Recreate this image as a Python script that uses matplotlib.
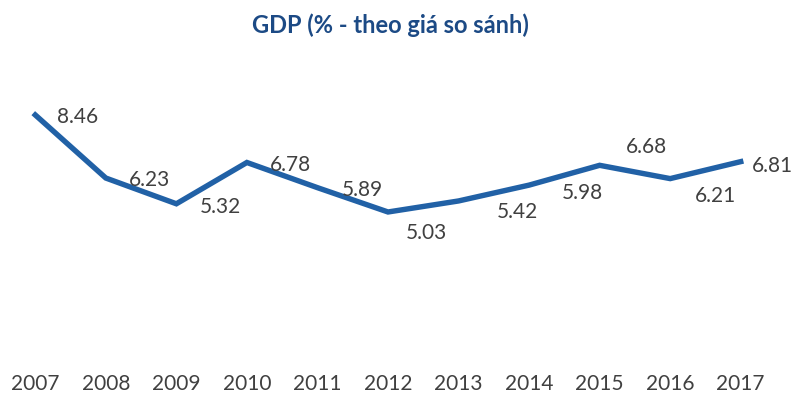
import matplotlib
matplotlib.use('Agg')
import matplotlib.pyplot as plt

years = [2007, 2008, 2009, 2010, 2011, 2012, 2013, 2014, 2015, 2016, 2017]
gdp = [8.46, 6.23, 5.32, 6.78, 5.89, 5.03, 5.42, 5.98, 6.68, 6.21, 6.81]
title = 'GDP (% - theo giá so sánh)'

# label offsets in pixels (dx, dy) as placed in the original
offsets = [(42, -2), (44, -2), (44, -3), (44, -3), (45, -2), (38, -21),
           (59, -11), (53, -8), (47, 18), (45, -17), (32, -4)]

plt.rcParams['font.family'] = ['Lato', 'DejaVu Sans']

fig = plt.figure(figsize=(7.99, 3.94), dpi=100)
ax = fig.add_axes([0.0, 0.1008, 776 / 799, 0.718])

ax.plot(years, gdp, color='#2161a6', linewidth=3.9, solid_joinstyle='miter')

for x, y, (dx, dy) in zip(years, gdp, offsets):
    ax.annotate(f'{y:.2f}', (x, y), xytext=(dx, dy), textcoords='offset pixels',
                ha='center', va='center', fontsize=15, color='#404040')

ax.set_xlim(2006.5, 2017.5)
ax.set_ylim(0, 10)
ax.set_xticks(years)
ax.set_xticklabels([str(y) for y in years], fontsize=15, color='#404040')
ax.tick_params(axis='x', length=0, pad=14)
ax.set_yticks([])
for s in ax.spines.values():
    s.set_visible(False)

fig.text(390 / 799, 1 - 25 / 394, title, ha='center', va='center',
         fontsize=17, fontweight='bold', color='#1c4a85')

fig.savefig('out.png', dpi=100)
